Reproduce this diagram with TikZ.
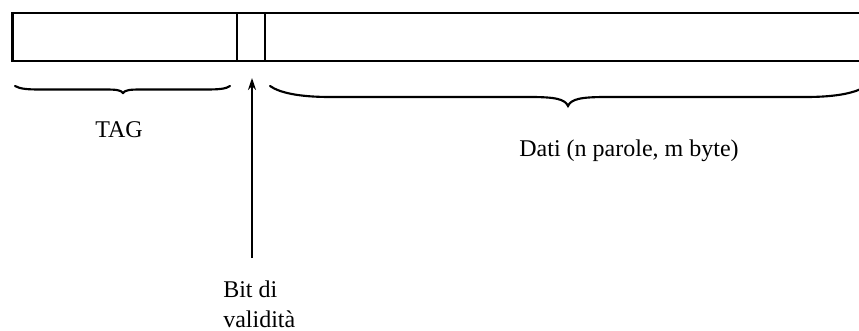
\documentclass[tikz,border=0pt]{standalone}
\usepackage{fontspec}
\setmainfont{Liberation Serif}
\usetikzlibrary{arrows.meta}
\begin{document}
\begin{tikzpicture}[x=0.75pt,y=-0.75pt,
  box/.style={line width=1.8pt},
  bracecurve/.style={line width=1.6pt,line cap=round},
  lbl/.style={font=\fontsize{18}{22.5}\selectfont,inner sep=0pt},
  pointer/.style={line width=1.6pt,-{Stealth[length=9pt,width=6pt]}}]
\useasboundingbox (0,0) rectangle (859,331);
\clip (0,0) rectangle (859,331);
% record
\coordinate (tl) at (12.5,13);
\coordinate (br) at (880,61);
\draw[box] (tl) rectangle (br);
\draw[box] (237,13) -- (237,61);
\draw[box] (265,13) -- (265,61);
% TAG brace
\draw[bracecurve] (15,86) .. controls (20,89) and (28,89.5) .. (40,89.5)
  -- (105,89.5) .. controls (116,89.5) and (121,90) .. (123,93)
  .. controls (125,90) and (130,89.5) .. (141,89.5)
  -- (206,89.5) .. controls (218,89.5) and (226,89) .. (230,86);
% Dati brace
\draw[bracecurve] (270,86) .. controls (280,93) and (300,97) .. (330,97)
  -- (530,97) .. controls (555,97) and (565,99) .. (568,106)
  .. controls (571,99) and (581,97) .. (606,97)
  -- (806,97) .. controls (836,97) and (856,93) .. (866,86);
% labels
\node[lbl,anchor=base] (tag) at (119,138) {TAG};
\node[lbl,anchor=base] (dati) at (629,157) {Dati (n parole, m byte)};
\node[lbl,anchor=north west,align=left] (bit) at (223,281) {Bit di\\validità};
% pointer
\coordinate (tail) at (252,258);
\coordinate (head) at (252,78);
\draw[pointer] (tail) -- (head);
\end{tikzpicture}
\end{document}
